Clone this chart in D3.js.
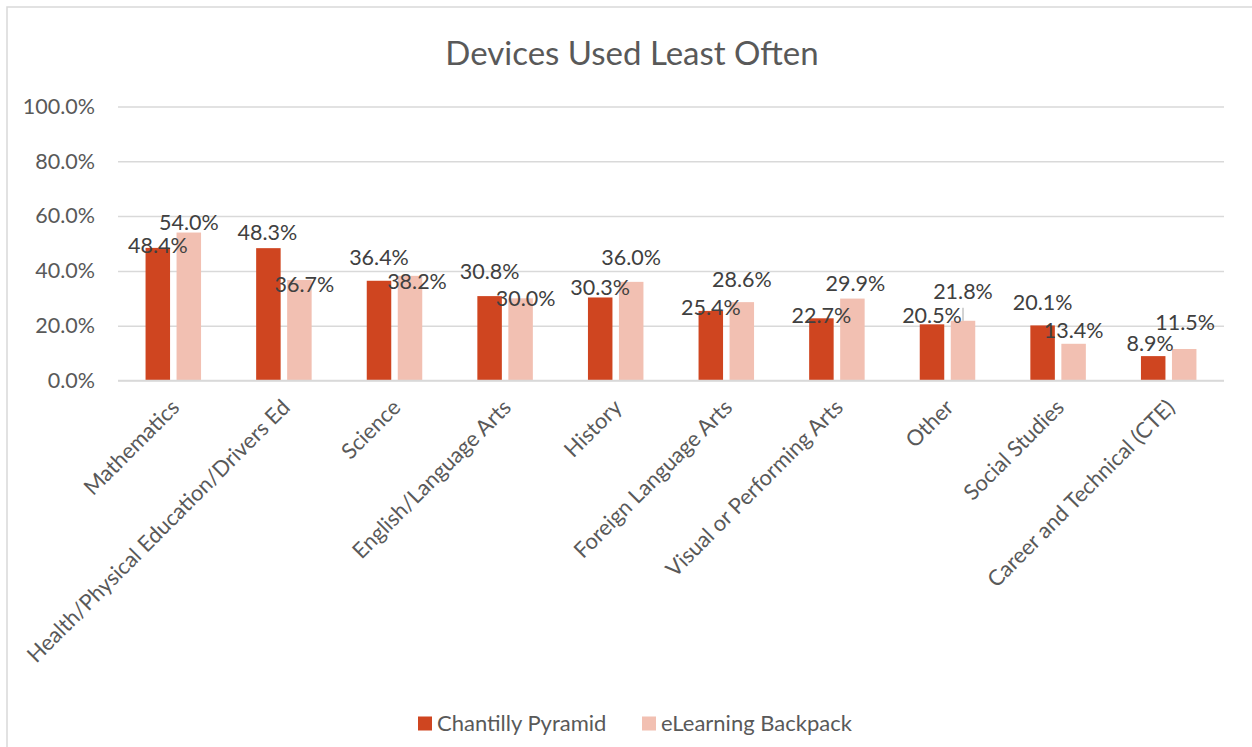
<!DOCTYPE html>
<html>
<head>
<meta charset="utf-8">
<script src="https://cdn.jsdelivr.net/npm/d3@7"></script>
<style>
  html, body { margin: 0; padding: 0; background: #fff; }
  svg { display: block; }
  text { font-family: Lato, "Open Sans", sans-serif; }
</style>
</head>
<body>
<svg id="chart" width="1252" height="747"></svg>
<script>
const categories = ["Mathematics", "Health/Physical Education/Drivers Ed", "Science", "English/Language Arts", "History", "Foreign Language Arts", "Visual or Performing Arts", "Other", "Social Studies", "Career and Technical (CTE)"];
const seriesNames = ["Chantilly Pyramid", "eLearning Backpack"];
const chantilly = [48.4, 48.3, 36.4, 30.8, 30.3, 25.4, 22.7, 20.5, 20.1, 8.9];
const elearning = [54.0, 36.7, 38.2, 30.0, 36.0, 28.6, 29.9, 21.8, 13.4, 11.5];
const yTicks = [0, 20, 40, 60, 80, 100];
const title = "Devices Used Least Often";

// layout: label nudges (dx, dy) relative to bar-top centre, as placed in the original
const nudgeA = [[0,-2],[-1,-16],[0,-23],[0,-25],[0,-10],[0,-3],[0,-3],[0,-9],[0,-23],[-3,-13]];
const nudgeB = [[0,-10],[5,5],[7,6],[5,0],[0,-24],[0,-23],[3,-15],[0,-29],[0,-13],[1,-27]];
const leaderB = [false,false,false,false,false,false,false,true,false,false];

const colors = ["#CF4520", "#F2C0B2"];
const svg = d3.select("#chart");

// chart border (right/bottom edges fall outside the picture)
svg.append("rect").attr("x", 7).attr("y", 7).attr("width", 1300).attr("height", 800)
  .attr("fill", "none").attr("stroke", "#d9d9d9").attr("stroke-width", 1.5);

const plot = {left: 118, right: 1224, top: 106.5, bottom: 380.5};

const x0 = d3.scaleBand().domain(categories).range([plot.left, plot.right]).paddingInner(0).paddingOuter(0);
const barW = 24.5, barGap = 6.5;
const x1 = d3.scaleBand().domain(seriesNames).range([0, barW*2 + barGap]).paddingInner(barGap/(barW+barGap)).paddingOuter(0);
const groupOffset = (x0.bandwidth() - (barW*2 + barGap)) / 2;
const y = d3.scaleLinear().domain([0, 100]).range([plot.bottom, plot.top]);

// title
svg.append("text").attr("x", 632).attr("y", 53).attr("dy", "0.35em")
  .attr("text-anchor", "middle").attr("font-size", 33).attr("fill", "#595959").text(title);

// gridlines + y axis
const yAxis = d3.axisLeft(y).tickValues(yTicks).tickFormat(d => d.toFixed(1) + "%")
  .tickSize(-(plot.right - plot.left)).tickPadding(23);
const gy = svg.append("g").attr("transform", `translate(${plot.left},0)`).call(yAxis);
gy.select(".domain").remove();
gy.selectAll(".tick line").attr("stroke", "#d9d9d9").attr("stroke-width", 1.5);
gy.selectAll(".tick text").attr("font-size", 21.5).attr("fill", "#595959").attr("font-family", "Lato, sans-serif");

// x axis labels
const xAxis = d3.axisBottom(x0).tickSize(0).tickPadding(0);
const gx = svg.append("g").attr("transform", `translate(0,${plot.bottom})`).call(xAxis);
gx.select(".domain").remove();
gx.selectAll(".tick text")
  .attr("font-size", 21.8).attr("fill", "#595959").attr("font-family", "Lato, sans-serif")
  .attr("text-anchor", "end")
  .attr("transform", "translate(2,23) rotate(-45)")
  .attr("dy", "0.35em").attr("y", 0);

const series = [chantilly, elearning];
const nudges = [nudgeA, nudgeB];

series.forEach((vals, si) => {
  const g = svg.append("g");
  g.selectAll("rect").data(vals).join("rect")
    .attr("x", (d, i) => x0(categories[i]) + groupOffset + x1(seriesNames[si]))
    .attr("width", barW)
    .attr("y", d => y(d))
    .attr("height", d => y(0) - y(d))
    .attr("fill", colors[si]);
});

// baseline on top of bars
svg.append("line").attr("x1", plot.left).attr("x2", plot.right).attr("y1", y(0)).attr("y2", y(0))
  .attr("stroke", "#d9d9d9").attr("stroke-width", 1.5);

// leader lines
elearning.forEach((d, i) => {
  if (!leaderB[i]) return;
  const cx = x0(categories[i]) + groupOffset + x1(seriesNames[1]) + barW/2;
  svg.append("line").attr("x1", cx).attr("x2", cx).attr("y1", y(d) - 13).attr("y2", y(d))
    .attr("stroke", "#a6a6a6").attr("stroke-width", 1);
});

// data labels
series.forEach((vals, si) => {
  const g = svg.append("g");
  g.selectAll("text").data(vals).join("text")
    .attr("x", (d, i) => x0(categories[i]) + groupOffset + x1(seriesNames[si]) + barW/2 + nudges[si][i][0])
    .attr("y", (d, i) => y(d) + nudges[si][i][1])
    .attr("dy", "0.35em")
    .attr("text-anchor", "middle")
    .attr("font-size", 21.5).attr("fill", "#404040")
    .text(d => d.toFixed(1) + "%");
});

// legend
const legend = svg.append("g");
const legendItems = [{x: 418, name: seriesNames[0], c: colors[0]}, {x: 642, name: seriesNames[1], c: colors[1]}];
legendItems.forEach(it => {
  legend.append("rect").attr("x", it.x).attr("y", 716.5).attr("width", 14).attr("height", 14).attr("fill", it.c);
  legend.append("text").attr("x", it.x + 19).attr("y", 723.5).attr("dy", "0.35em")
    .attr("font-size", 22).attr("fill", "#595959").text(it.name);
});
</script>
</body>
</html>
